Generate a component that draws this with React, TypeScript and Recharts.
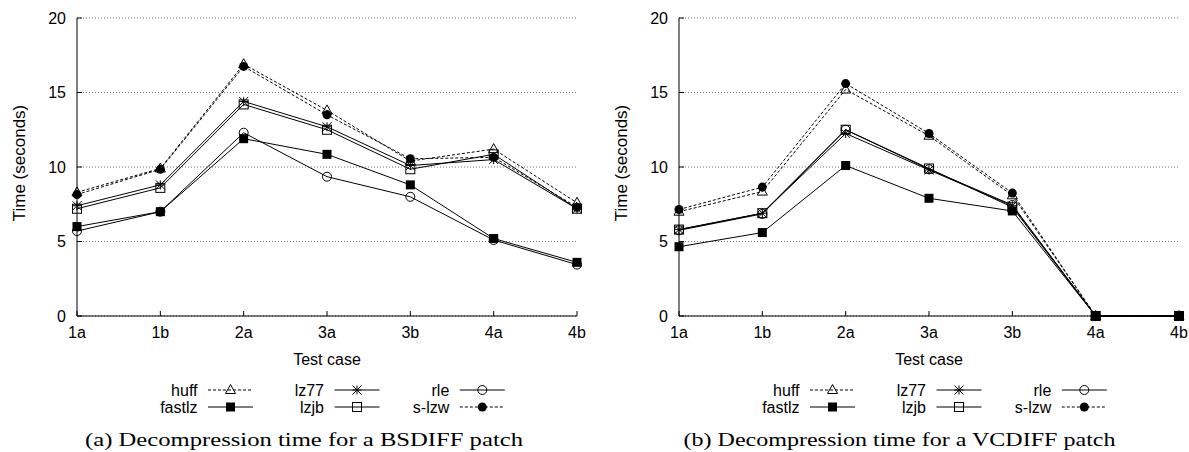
import React from 'react';
import { LineChart, Line, XAxis, YAxis, CartesianGrid } from 'recharts';

// ---------- data ----------
const categories = ['1a', '1b', '2a', '3a', '3b', '4a', '4b'];
const yTicks = [0, 5, 10, 15, 20];

// (a) BSDIFF
const bsHuff = [8.3, 9.9, 16.9, 13.8, 10.4, 11.2, 7.6];
const bsFastlz = [6.0, 7.0, 11.9, 10.85, 8.8, 5.2, 3.6];
const bsLz77 = [7.4, 8.8, 14.4, 12.7, 10.1, 10.5, 7.2];
const bsLzjb = [7.2, 8.6, 14.2, 12.5, 9.85, 10.85, 7.2];
const bsRle = [5.7, 7.0, 12.3, 9.35, 8.0, 5.1, 3.45];
const bsSlzw = [8.15, 9.85, 16.75, 13.5, 10.55, 10.65, 7.3];

// (b) VCDIFF
const vcHuff = [7.0, 8.35, 15.2, 12.1, 8.1, 0, 0];
const vcFastlz = [4.65, 5.6, 10.1, 7.9, 7.05, 0, 0];
const vcLz77 = [5.8, 6.9, 12.25, 9.8, 7.4, 0, 0];
const vcLzjb = [5.8, 6.9, 12.5, 9.9, 7.3, 0, 0];
const vcRle = [5.75, 6.85, 12.5, 9.85, 7.45, 0, 0];
const vcSlzw = [7.15, 8.65, 15.6, 12.25, 8.25, 0, 0];

const seriesNames = ['huff', 'fastlz', 'lz77', 'lzjb', 'rle', 's-lzw'];
const seriesKeys = ['huff', 'fastlz', 'lz77', 'lzjb', 'rle', 'slzw'];
const seriesDashed = [true, false, false, false, false, true];
const seriesMarkers = ['triangle', 'square', 'asterisk', 'opensquare', 'circle', 'dot'];

const yAxisTitle = 'Time (seconds)';
const xAxisTitle = 'Test case';
const captionA = '(a) Decompression time for a BSDIFF patch';
const captionB = '(b) Decompression time for a VCDIFF patch';

const buildRows = (arrs: number[][]) =>
  categories.map((c, i) => {
    const row: any = { c };
    seriesKeys.forEach((k, j) => (row[k] = arrs[j][i]));
    return row;
  });

const dataA = buildRows([bsHuff, bsFastlz, bsLz77, bsLzjb, bsRle, bsSlzw]);
const dataB = buildRows([vcHuff, vcFastlz, vcLz77, vcLzjb, vcRle, vcSlzw]);

// ---------- styling ----------
const SANS = '"Liberation Sans", Arial, Helvetica, sans-serif';
const SERIF = '"Liberation Serif", "Times New Roman", serif';
const FS = 16;
const DASH = '3 2';

function Marker({ type, cx, cy }: { type: string; cx: number; cy: number }) {
  const s = 4.5;
  if (cx == null || cy == null || isNaN(cx) || isNaN(cy)) return null;
  switch (type) {
    case 'triangle':
      return (
        <polygon
          points={`${cx},${cy - 5.5} ${cx - 5},${cy + 3.5} ${cx + 5},${cy + 3.5}`}
          fill="none"
          stroke="#000"
          strokeWidth={1}
        />
      );
    case 'square':
      return <rect x={cx - s} y={cy - s} width={2 * s} height={2 * s} fill="#000" />;
    case 'asterisk':
      return (
        <g stroke="#000" strokeWidth={1}>
          <line x1={cx - s} y1={cy} x2={cx + s} y2={cy} />
          <line x1={cx} y1={cy - s} x2={cx} y2={cy + s} />
          <line x1={cx - s} y1={cy - s} x2={cx + s} y2={cy + s} />
          <line x1={cx - s} y1={cy + s} x2={cx + s} y2={cy - s} />
        </g>
      );
    case 'opensquare':
      return <rect x={cx - s} y={cy - s} width={2 * s} height={2 * s} fill="none" stroke="#000" strokeWidth={1} />;
    case 'circle':
      return <circle cx={cx} cy={cy} r={s} fill="none" stroke="#000" strokeWidth={1} />;
    case 'dot':
      return <circle cx={cx} cy={cy} r={s} fill="#000" />;
    default:
      return null;
  }
}

const TICK = 5;

const BottomTick = (props: any) => {
  const { x, y, payload } = props;
  return (
    <g>
      <line x1={x} y1={y} x2={x} y2={y - TICK} stroke="#000" />
      <text x={x} y={y + 22} textAnchor="middle" fontSize={FS} fontFamily={SANS} fill="#000">
        {payload.value}
      </text>
    </g>
  );
};

const TopTick = (props: any) => {
  const { x, y } = props;
  return <line x1={x} y1={y} x2={x} y2={y + TICK} stroke="#000" />;
};

const Y_GAP = 11;
const LeftTick = (props: any) => {
  const { x, y, payload } = props;
  return (
    <g>
      <line x1={x + Y_GAP} y1={y} x2={x + Y_GAP + TICK} y2={y} stroke="#000" />
      <text x={x} y={y + 5.5} textAnchor="end" fontSize={FS} fontFamily={SANS} fill="#000">
        {payload.value}
      </text>
    </g>
  );
};

const RightTick = (props: any) => {
  const { x, y } = props;
  return <line x1={x} y1={y} x2={x - TICK} y2={y} stroke="#000" />;
};

type PanelProps = {
  data: any[];
  left: number;
  width: number;
  plotLeft: number;
  plotRight: number;
  yLabelX: number;
  caption: string;
  captionX: number;
  captionLen: number;
};

const CHART_H = 360;
const PLOT_TOP = 18;
const PLOT_BOTTOM = 316;

function Panel({ data, left, width, plotLeft, plotRight, yLabelX, caption, captionX, captionLen }: PanelProps) {
  const plotCenter = (plotLeft + plotRight) / 2;
  const legendCols = [120.5, 247, 372.3];
  const rowY = [390, 407];
  const yLabelY = 163;
  return (
    <div style={{ position: 'absolute', left, top: 0, width, height: 452 }}>
      <LineChart
        width={width}
        height={CHART_H}
        data={data}
        margin={{ top: PLOT_TOP, right: width - plotRight, bottom: 0, left: 0 }}
      >
        <CartesianGrid
          xAxisId="bottom"
          yAxisId="left"
          vertical={false}
          stroke="#777"
          strokeDasharray="1 2"
        />
        <XAxis
          xAxisId="bottom"
          dataKey="c"
          type="category"
          interval={0}
          height={CHART_H - PLOT_BOTTOM}
          tickSize={0}
          tickMargin={0}
          tickLine={false}
          axisLine={{ stroke: '#000' }}
          tick={<BottomTick />}
        />
        <XAxis
          xAxisId="top"
          orientation="top"
          dataKey="c"
          type="category"
          interval={0}
          height={0}
          tickSize={0}
          tickMargin={0}
          tickLine={false}
          axisLine={{ stroke: '#000' }}
          tick={<TopTick />}
        />
        <YAxis
          yAxisId="left"
          domain={[0, 20]}
          ticks={yTicks}
          type="number"
          width={plotLeft}
          tickSize={0}
          tickMargin={Y_GAP}
          tickLine={false}
          axisLine={{ stroke: '#000' }}
          tick={<LeftTick />}
          interval={0}
        />
        <YAxis
          yAxisId="right"
          orientation="right"
          domain={[0, 20]}
          ticks={yTicks}
          type="number"
          width={0}
          tickSize={0}
          tickMargin={0}
          tickLine={false}
          axisLine={{ stroke: '#000' }}
          tick={<RightTick />}
          interval={0}
        />
        {seriesKeys.map((k, j) => (
          <Line
            key={k}
            xAxisId="bottom"
            yAxisId="left"
            type="linear"
            dataKey={k}
            stroke="#000"
            strokeWidth={1}
            strokeDasharray={seriesDashed[j] ? DASH : undefined}
            isAnimationActive={false}
            activeDot={false}
            dot={(p: any) => <Marker key={`${k}-${p.index}`} type={seriesMarkers[j]} cx={p.cx} cy={p.cy} />}
          />
        ))}
      </LineChart>
      <svg
        width={width}
        height={452}
        style={{ position: 'absolute', left: 0, top: 0, pointerEvents: 'none' }}
      >
        <text
          x={yLabelX}
          y={yLabelY}
          transform={`rotate(-90 ${yLabelX} ${yLabelY})`}
          textAnchor="middle"
          dominantBaseline="central"
          fontSize={17}
          fontFamily={SANS}
          fill="#000"
        >
          {yAxisTitle}
        </text>
        <text x={plotCenter} y={365} textAnchor="middle" fontSize={FS} fontFamily={SANS} fill="#000">
          {xAxisTitle}
        </text>
        {seriesNames.map((name, j) => {
          const col = Math.floor(j / 2);
          const row = j % 2;
          const lx = plotLeft + legendCols[col];
          const cy = rowY[row];
          const sx0 = lx + 10.5;
          const sx1 = sx0 + 45;
          return (
            <g key={name}>
              <text x={lx} y={cy + 5.5} textAnchor="end" fontSize={FS} fontFamily={SANS} fill="#000">
                {name}
              </text>
              <line
                x1={sx0}
                y1={cy}
                x2={sx1}
                y2={cy}
                stroke="#000"
                strokeWidth={1}
                strokeDasharray={seriesDashed[j] ? DASH : undefined}
              />
              <Marker type={seriesMarkers[j]} cx={(sx0 + sx1) / 2} cy={cy} />
            </g>
          );
        })}
        <text
          x={captionX}
          y={446}
          fontSize={19}
          fontFamily={SERIF}
          fill="#000"
          textLength={captionLen}
          lengthAdjust="spacingAndGlyphs"
        >
          {caption}
        </text>
      </svg>
    </div>
  );
}

export default function App() {
  return (
    <div
      style={{
        position: 'absolute',
        left: 0,
        top: 0,
        width: 1189,
        height: 452,
        background: '#fff',
        overflow: 'hidden',
      }}
    >
      <Panel
        data={dataA}
        left={0}
        width={600}
        plotLeft={77}
        plotRight={577}
        yLabelX={19.5}
        caption={captionA}
        captionX={85}
        captionLen={438}
      />
      <Panel
        data={dataB}
        left={600}
        width={589}
        plotLeft={79}
        plotRight={579}
        yLabelX={21.5}
        caption={captionB}
        captionX={83.5}
        captionLen={432}
      />
    </div>
  );
}
